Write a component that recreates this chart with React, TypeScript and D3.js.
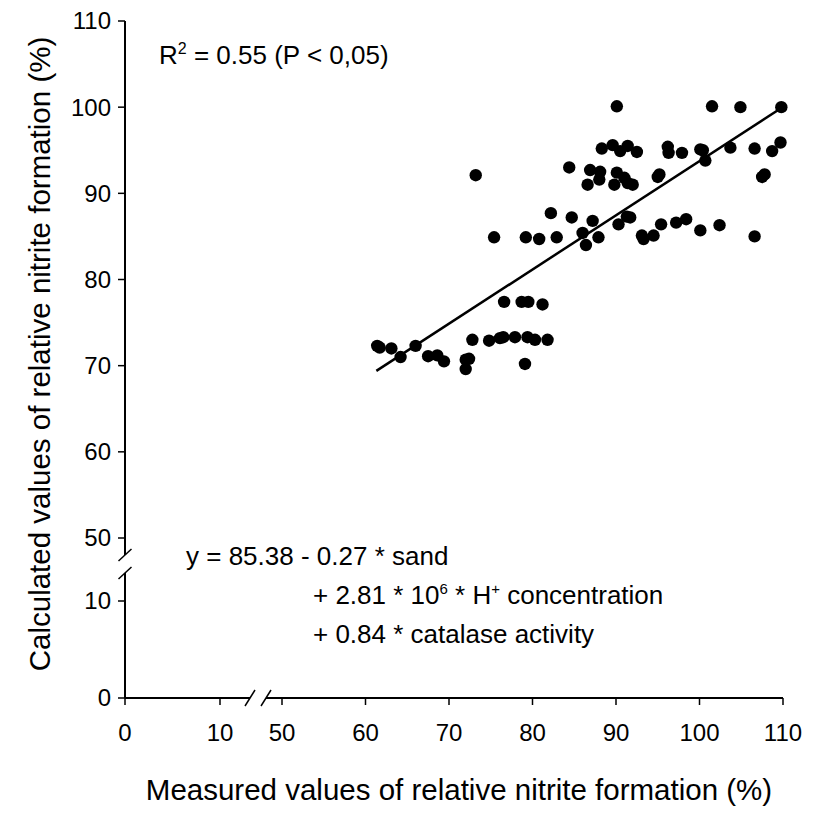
import React from "react";
import * as d3 from "d3";

// Measured (x) and calculated (y) relative nitrite formation (%)
const measured = [
  90.1, 101.5, 104.9, 109.8,
  88.3, 89.6, 90.5, 91.4, 92.5, 96.2, 96.3, 97.9, 100.1, 100.4, 100.7, 103.7, 106.6, 108.7, 109.7,
  84.4, 86.9, 88.1, 88.0, 86.6, 90.1, 91.0, 91.4, 92.0, 89.8, 95.2, 95.0, 107.8, 107.5, 73.2,
  82.2, 84.7, 87.2, 90.3, 91.3, 91.7, 75.4, 79.2, 80.8, 82.9, 86.0, 86.4, 87.9, 93.1, 93.3, 94.5,
  95.4, 97.2, 98.4, 100.1, 102.4, 106.6,
  61.4, 61.7, 63.1, 64.2, 66.0, 67.5, 68.6, 69.4, 72.0, 72.4, 72.0, 72.8, 74.8, 76.1, 76.5, 77.9,
  79.4, 80.3, 81.8, 79.1, 76.6, 78.7, 79.5, 81.2,
];
const calculated = [
  100.1, 100.1, 100.0, 100.0,
  95.2, 95.6, 94.9, 95.5, 94.8, 95.4, 94.7, 94.7, 95.1, 95.0, 93.8, 95.3, 95.2, 94.9, 95.9,
  93.0, 92.7, 92.5, 91.6, 91.0, 92.4, 91.8, 91.2, 91.0, 91.0, 92.2, 91.9, 92.2, 91.9, 92.1,
  87.7, 87.2, 86.8, 86.4, 87.3, 87.2, 84.9, 84.9, 84.7, 84.9, 85.4, 84.0, 84.9, 85.1, 84.7, 85.1,
  86.4, 86.6, 87.0, 85.7, 86.3, 85.0,
  72.3, 72.1, 72.0, 71.0, 72.3, 71.1, 71.2, 70.5, 70.7, 70.8, 69.6, 73.0, 72.9, 73.2, 73.3, 73.3,
  73.3, 73.0, 73.0, 70.2, 77.4, 77.4, 77.4, 77.1,
];
const fitX = [61.3, 109.8];
const fitY = [69.4, 99.9];

const xTicksLow = [0, 10];
const xTicksHigh = [50, 60, 70, 80, 90, 100, 110];
const yTicksLow = [0, 10];
const yTicksHigh = [50, 60, 70, 80, 90, 100, 110];

const FONT = "'Liberation Sans', Arial, Helvetica, sans-serif";

export default function App() {
  const W = 828;
  const H = 819;
  const axisX = 125;
  const axisY = 698;

  const xLow = d3.scaleLinear().domain([0, 10]).range([125, 220]);
  const xHigh = d3.scaleLinear().domain([50, 110]).range([282, 783]);
  const yLow = d3.scaleLinear().domain([0, 10]).range([698, 601]);
  const yHigh = d3.scaleLinear().domain([50, 110]).range([538, 21]);

  const line = d3
    .line<number>()
    .x((_, i) => xHigh(fitX[i]))
    .y((_, i) => yHigh(fitY[i]));

  const yBreakTop = 555;
  const yBreakBot = 573;
  const xBreakL = 250;
  const xBreakR = 266;

  const tickFont = 24;
  const annFont = 26;
  const titleFont = 29.5;

  return (
    <svg
      width={W}
      height={H}
      style={{ position: "absolute", left: 0, top: 0, background: "#fff" }}
      fontFamily={FONT}
    >
      <rect x={0} y={0} width={W} height={H} fill="#fff" />
      {/* Y axis segments */}
      <line x1={axisX} x2={axisX} y1={yHigh(110)} y2={yBreakTop} stroke="#000" strokeWidth={2} />
      <line x1={axisX} x2={axisX} y1={yBreakBot} y2={axisY} stroke="#000" strokeWidth={2} />
      {/* y break slashes */}
      <line x1={axisX - 6.5} y1={yBreakTop + 6} x2={axisX + 6.5} y2={yBreakTop - 6} stroke="#000" strokeWidth={1.5} />
      <line x1={axisX - 6.5} y1={yBreakBot + 6} x2={axisX + 6.5} y2={yBreakBot - 6} stroke="#000" strokeWidth={1.5} />
      {/* X axis segments */}
      <line x1={axisX} x2={xBreakL} y1={axisY} y2={axisY} stroke="#000" strokeWidth={2} />
      <line x1={xBreakR} x2={xHigh(110)} y1={axisY} y2={axisY} stroke="#000" strokeWidth={2} />
      <line x1={xBreakL - 5} y1={axisY + 8} x2={xBreakL + 5} y2={axisY - 8} stroke="#000" strokeWidth={1.5} />
      <line x1={xBreakR - 5} y1={axisY + 8} x2={xBreakR + 5} y2={axisY - 8} stroke="#000" strokeWidth={1.5} />

      {/* Y ticks */}
      {yTicksHigh.map((t) => (
        <g key={"yh" + t}>
          <line x1={axisX - 7} x2={axisX} y1={yHigh(t)} y2={yHigh(t)} stroke="#000" strokeWidth={1.5} />
          <text x={axisX - 14} y={yHigh(t)} dy="0.35em" textAnchor="end" fontSize={tickFont}>
            {t}
          </text>
        </g>
      ))}
      {yTicksLow.map((t) => (
        <g key={"yl" + t}>
          <line x1={axisX - 7} x2={axisX} y1={yLow(t)} y2={yLow(t)} stroke="#000" strokeWidth={1.5} />
          <text x={axisX - 14} y={yLow(t)} dy="0.35em" textAnchor="end" fontSize={tickFont}>
            {t}
          </text>
        </g>
      ))}
      {/* X ticks */}
      {xTicksLow.map((t) => (
        <g key={"xl" + t}>
          <line x1={xLow(t)} x2={xLow(t)} y1={axisY} y2={axisY + 7} stroke="#000" strokeWidth={1.5} />
          <text x={xLow(t)} y={733} dy="0.35em" textAnchor="middle" fontSize={tickFont}>
            {t}
          </text>
        </g>
      ))}
      {xTicksHigh.map((t) => (
        <g key={"xh" + t}>
          <line x1={xHigh(t)} x2={xHigh(t)} y1={axisY} y2={axisY + 7} stroke="#000" strokeWidth={1.5} />
          <text x={xHigh(t)} y={733} dy="0.35em" textAnchor="middle" fontSize={tickFont}>
            {t}
          </text>
        </g>
      ))}

      {/* Regression line */}
      <path d={line(fitX) || ""} fill="none" stroke="#000" strokeWidth={2.5} />

      {/* Points */}
      {measured.map((m, i) => (
        <circle key={i} cx={xHigh(m)} cy={yHigh(calculated[i])} r={6.2} fill="#000" />
      ))}

      {/* Annotations */}
      <text x={159} y={64} fontSize={annFont}>
        R<tspan dy={-10} fontSize={16}>2</tspan>
        <tspan dy={10}> = 0.55 (P &lt; 0,05)</tspan>
      </text>
      <text x={186} y={565} fontSize={annFont}>
        y = 85.38 - 0.27 * sand
      </text>
      <text x={313} y={604} fontSize={annFont}>
        + 2.81 * 10<tspan dy={-10} fontSize={15}>6</tspan>
        <tspan dy={10}> * H</tspan>
        <tspan dy={-10} fontSize={15}>+</tspan>
        <tspan dy={10}> concentration</tspan>
      </text>
      <text x={313} y={643} fontSize={annFont}>
        + 0.84 * catalase activity
      </text>

      {/* Axis titles */}
      <text x={459} y={790} dy="0.35em" textAnchor="middle" fontSize={titleFont}>
        Measured values of relative nitrite formation (%)
      </text>
      <text
        transform={`translate(40, 354) rotate(-90)`}
        dy="0.35em"
        textAnchor="middle"
        fontSize={titleFont}
      >
        Calculated values of relative nitrite formation (%)
      </text>
    </svg>
  );
}
